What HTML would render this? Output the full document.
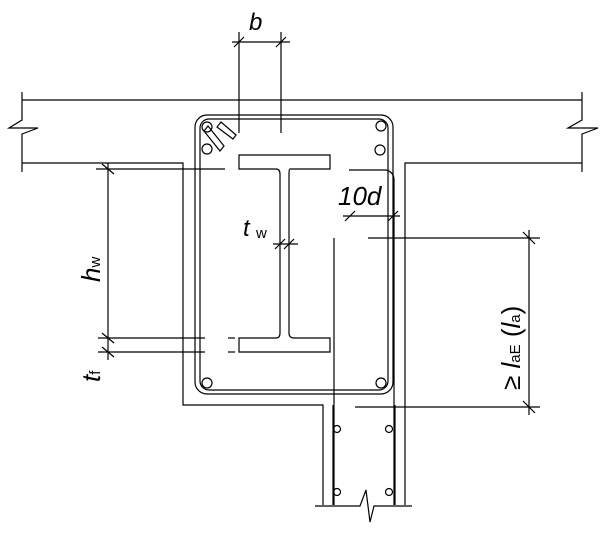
<!DOCTYPE html>
<html><head><style>body{margin:0;background:#fff}svg{display:block}</style></head><body>
<svg width="612" height="533" viewBox="0 0 612 533" xmlns="http://www.w3.org/2000/svg" fill="none" stroke="#000" stroke-width="1.2">
<line x1="22" y1="100" x2="582" y2="100"/>
<polyline points="22,92 22,120 9,128 38,128 22,134 22,172"/>
<polyline points="582,92 582,120 568,128 598,128 582,134 582,172"/>
<polyline points="22,163 183,163 183,405 323,405 323,505"/>
<polyline points="582,163 405,163 405,505"/>
<line x1="395" y1="405" x2="395" y2="505"/>
<line x1="333" y1="405" x2="333" y2="505"/>
<polyline points="315,506 360,506 366,490 370,522 374,506 412,506"/>
<rect x="195" y="115" width="198" height="279" rx="12"/>
<rect x="200" y="119" width="188" height="271" rx="9"/>
<polygon points="204,131 208,126 224,146 220,151"/>
<polygon points="217,127 221,122 236,135 233,139"/>
<circle cx="207" cy="127" r="5"/><circle cx="207" cy="149" r="5"/>
<circle cx="381" cy="126" r="5"/><circle cx="380" cy="150" r="5"/>
<circle cx="207" cy="383" r="5"/><circle cx="381" cy="383" r="5"/>
<circle cx="337" cy="429" r="3.5"/><circle cx="389" cy="429" r="3.5"/>
<circle cx="337" cy="492" r="3.5"/><circle cx="389" cy="492" r="3.5"/>
<path d="M239,155 H330 V169 H290 Q289,169 289,174 V333 Q289,338 294,338 H330 V352 H239 V338 H276 Q280,338 280,333 V174 Q280,169 276,169 H239 Z"/>
<line x1="334" y1="238" x2="334" y2="505"/>
<path d="M349,170 H386 Q394,172 394,180 V505"/>
<line x1="239" y1="32" x2="239" y2="133"/><line x1="281" y1="32" x2="281" y2="133"/>
<line x1="232" y1="42" x2="290" y2="42"/>
<line x1="234" y1="47" x2="244" y2="37"/><line x1="276" y1="47" x2="286" y2="37"/>
<line x1="108" y1="163" x2="108" y2="360"/>
<line x1="96" y1="169" x2="225" y2="169"/>
<line x1="98" y1="338" x2="205" y2="338"/>
<line x1="98" y1="352" x2="205" y2="352"/>
<line x1="102" y1="164" x2="114" y2="174"/><line x1="102" y1="333" x2="114" y2="343"/><line x1="102" y1="347" x2="114" y2="357"/>
<line x1="228" y1="338" x2="235" y2="338"/><line x1="228" y1="352" x2="235" y2="352"/>
<line x1="273" y1="244" x2="298" y2="244"/>
<line x1="275" y1="249" x2="285" y2="239"/><line x1="284" y1="249" x2="294" y2="239"/>
<line x1="343" y1="216" x2="400" y2="216"/>
<line x1="345" y1="221" x2="355" y2="211"/><line x1="388" y1="221" x2="398" y2="211"/>
<line x1="368" y1="238" x2="540" y2="238"/>
<line x1="355" y1="407" x2="540" y2="407"/>
<line x1="529" y1="230" x2="529" y2="415"/>
<line x1="523" y1="232" x2="535" y2="244"/><line x1="523" y1="401" x2="535" y2="413"/>
<g fill="#000" stroke="none" font-family="Liberation Sans, sans-serif" font-style="italic">
<text x="249" y="30" font-size="24">b</text>
<text x="243" y="236" font-size="24">t</text><text x="256" y="238" font-size="15" font-style="normal">w</text>
<text x="338" y="205" font-size="26">10d</text>
<text transform="translate(100,282) rotate(-90)" font-size="26">h<tspan font-size="15" font-style="normal">w</tspan></text>
<text transform="translate(100,382) rotate(-90)" font-size="26">t<tspan font-size="15" font-style="normal">f</tspan></text>
<text transform="translate(520,390) rotate(-90)" font-size="26" font-style="normal">≥ <tspan font-style="italic">l</tspan><tspan font-size="15">aE</tspan> (<tspan font-style="italic">l</tspan><tspan font-size="15">a</tspan>)</text>
</g>
</svg>
</body></html>
